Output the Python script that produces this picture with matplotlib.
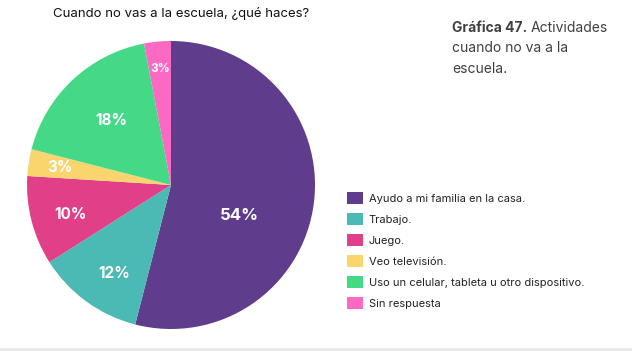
import matplotlib
matplotlib.use('Agg')
import matplotlib.pyplot as plt
import numpy as np

plt.rcParams['font.family'] = ['Inter', 'DejaVu Sans']

categories = ['Ayudo a mi familia en la casa.', 'Trabajo.', 'Juego.',
              'Veo televisión.', 'Uso un celular, tableta u otro dispositivo.',
              'Sin respuesta']
values = [54, 12, 10, 3, 18, 3]
colors = ['#5f3c8c', '#4bb9b4', '#e23f89', '#fad56e', '#45d987', '#fb69c3']

# label placement (radius as fraction, angle shift in degrees) for each slice
label_r = [0.52, 0.73, 0.73, 0.78, 0.61, 0.81]
label_shift = [-17, 3, 2, 0, 0, 0]
label_size = [12, 11, 11, 11, 11, 8.5]

W, H = 632, 351
fig = plt.figure(figsize=(W / 100, H / 100), dpi=100)
fig.patch.set_facecolor('white')

cx, cy, r = 171, 185, 144
ax = fig.add_axes([(cx - r) / W, (H - cy - r) / H, 2 * r / W, 2 * r / H])
wedges, _ = ax.pie(values, colors=colors, startangle=90, counterclock=False,
                   radius=1, wedgeprops=dict(linewidth=0))
ax.set_xlim(-1, 1)
ax.set_ylim(-1, 1)
ax.set_aspect('equal')
ax.axis('off')

for w, v, lr, sh, fs in zip(wedges, values, label_r, label_shift, label_size):
    ang = np.deg2rad((w.theta1 + w.theta2) / 2 + sh)
    ax.text(lr * np.cos(ang), lr * np.sin(ang), f'{v}%', color='white',
            fontsize=fs, fontweight='bold', ha='center', va='center')

fig.text(53 / W, 1 - 13 / H, 'Cuando no vas a la escuela, ¿qué haces?',
         fontsize=9.5, color='#111111', ha='left', va='center')

# side caption
txt_color = '#404040'
t1 = fig.text(452 / W, 1 - 28 / H, 'Gráfica 47.', fontsize=10,
              fontweight='bold', color=txt_color, ha='left', va='center')
fig.canvas.draw()
bb = t1.get_window_extent()
fig.text(bb.x1 / W + 4 / W, 1 - 28 / H, 'Actividades', fontsize=10,
         color=txt_color, ha='left', va='center')
fig.text(452 / W, 1 - 48 / H, 'cuando no va a la', fontsize=10,
         color=txt_color, ha='left', va='center')
fig.text(452 / W, 1 - 69 / H, 'escuela.', fontsize=10,
         color=txt_color, ha='left', va='center')

leg = fig.legend(wedges, categories, loc='upper left',
                 bbox_to_anchor=(347 / W, 1 - 192 / H), frameon=False,
                 fontsize=8, handlelength=1.45, handleheight=1.3,
                 labelspacing=0.8, handletextpad=0.5, borderaxespad=0,
                 borderpad=0)
for t in leg.get_texts():
    t.set_color('#222222')

# thin grey strip at the bottom
fig.patches.append(plt.Rectangle((0, 0), 1, 3 / H, transform=fig.transFigure,
                                 facecolor='#e8e8e8', edgecolor='none'))

fig.savefig('out.png', dpi=100, facecolor='white')
